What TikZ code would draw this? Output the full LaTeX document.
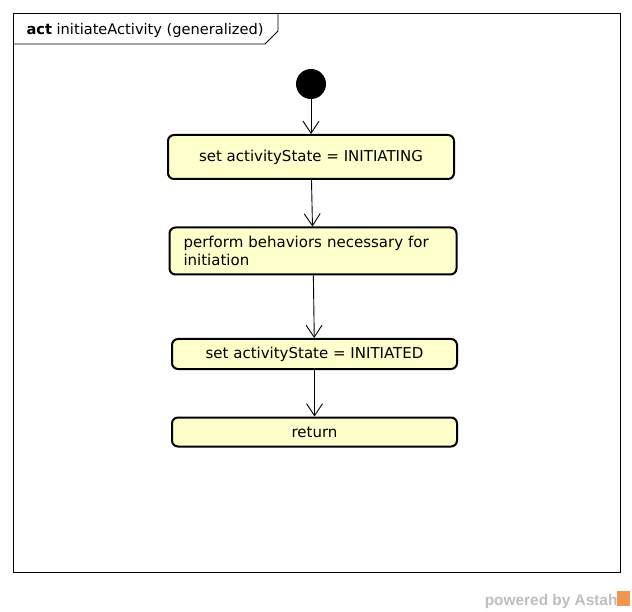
\documentclass[tikz,border=0pt]{standalone}
\usepackage{fontspec}
\setmainfont{DejaVu Sans}
\newfontfamily\footfont{Liberation Sans}
\usetikzlibrary{arrows.meta}
\definecolor{actfill}{RGB}{255,255,204}
\definecolor{astahgray}{RGB}{190,190,190}
\definecolor{astahorange}{RGB}{240,150,80}
\tikzset{
	action/.style={draw, line width=2pt, rounded corners=6pt, fill=actfill, font=\fontsize{15}{18}\selectfont, inner sep=0pt},
	flow/.style={line width=0.9pt, -{Straight Barb[length=12pt, width=16pt]}}
}

\begin{document}
\begin{tikzpicture}[x=1pt, y=-1pt]
			\useasboundingbox (0, 0) rectangle (632, 612);
			\fill[white] (0, 0) rectangle (632, 612);
			
			% frame with its name tab
			\draw[line width=0.8pt] (13, 13) rectangle (620, 572);
			\draw[line width=0.8pt] (13, 44) -- (265, 44) -- (278, 31) -- (278, 13);
			\node[anchor=west, font=\fontsize{14.6}{17}\selectfont] (title) at (23, 30) {\textbf{act} initiateActivity (generalized)};
			
			\node[circle, fill=black, minimum size=30pt, inner sep=0pt] (start) at (311, 84) {};
			\node[action, minimum width=286pt, minimum height=44pt] (init) at (311, 157) {set activityState = INITIATING};
			\node[action, minimum width=287pt, minimum height=47pt, text width=259pt, align=left] (perform) at (313, 251) {perform behaviors necessary for\\initiation};
			\node[action, minimum width=285pt, minimum height=30pt] (done) at (314.5, 354) {set activityState = INITIATED};
			\node[action, minimum width=285pt, minimum height=29pt] (ret) at (314.5, 432) {return};
			
			\draw[flow] (start) -- (init);
			\draw[flow] (init) -- (perform);
			\draw[flow] (perform) -- (done);
			\draw[flow] (done) -- (ret);
			
			% footer
			\node[anchor=base east, text=astahgray, font=\footfont\bfseries\fontsize{15.4}{17}\selectfont] (powered) at (621, 605) {powered by Astah};
			\fill[astahorange] (617, 591) rectangle (630, 606);
		\end{tikzpicture}
\end{document}
